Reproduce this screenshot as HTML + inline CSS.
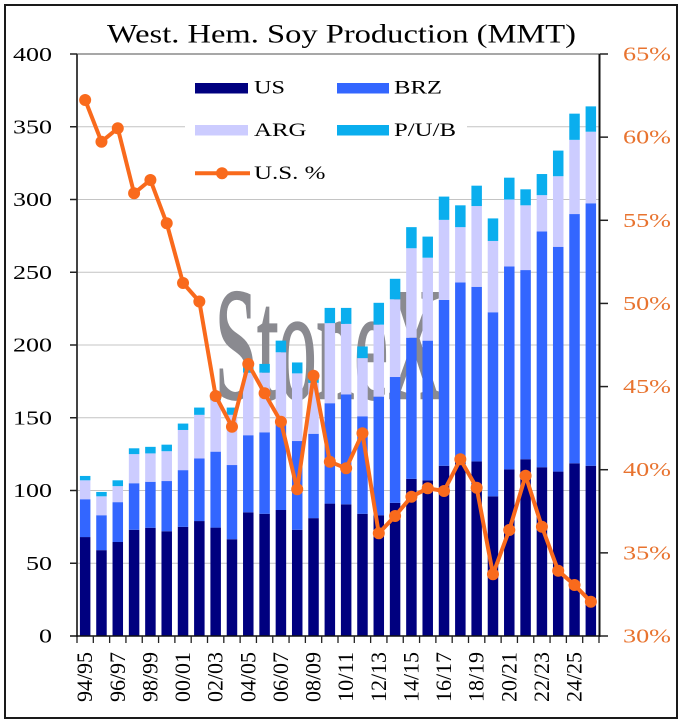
<!DOCTYPE html>
<html><head><meta charset="utf-8"><style>
html,body{margin:0;padding:0;background:#fff;}
svg{display:block;}
text{font-family:"Liberation Serif",serif;}
</style></head><body>
<svg width="684" height="720" viewBox="0 0 684 720" xmlns="http://www.w3.org/2000/svg">
<rect x="0" y="0" width="684" height="720" fill="#fff"/>
<rect x="5" y="5" width="672" height="713" fill="#fff" stroke="#1a1a1a" stroke-width="2"/>

<!-- title -->
<text x="107" y="42.5" font-size="26.5" fill="#000" textLength="469" lengthAdjust="spacingAndGlyphs">West. Hem. Soy Production (MMT)</text>

<!-- gridlines -->
<g stroke="#c4c4c4" stroke-width="1">
<line x1="77" y1="563.25" x2="600" y2="563.25"/>
<line x1="77" y1="490.5" x2="600" y2="490.5"/>
<line x1="77" y1="417.75" x2="600" y2="417.75"/>
<line x1="77" y1="345" x2="600" y2="345"/>
<line x1="77" y1="272.25" x2="600" y2="272.25"/>
<line x1="77" y1="199.5" x2="600" y2="199.5"/>
<line x1="77" y1="126.75" x2="600" y2="126.75"/>
</g>
<line x1="77" y1="54" x2="600" y2="54" stroke="#8a8a8a" stroke-width="1.5"/>

<!-- watermark -->
<text x="215" y="398" font-size="160" fill="#8a8a90" stroke="#8a8a90" stroke-width="2.5" textLength="228" lengthAdjust="spacingAndGlyphs">StoneX</text>

<!-- legend background -->
<rect x="185" y="60" width="282" height="135" fill="#fff"/>

<!-- bars -->
<g transform="translate(0,636) scale(1,-1.455)">
<g fill="#00007f">
<rect x="79.91" y="0" width="10.5" height="68"/>
<rect x="96.22" y="0" width="10.5" height="59"/>
<rect x="112.53" y="0" width="10.5" height="64.6"/>
<rect x="128.84" y="0" width="10.5" height="73"/>
<rect x="145.16" y="0" width="10.5" height="74.4"/>
<rect x="161.47" y="0" width="10.5" height="72"/>
<rect x="177.78" y="0" width="10.5" height="75"/>
<rect x="194.09" y="0" width="10.5" height="79"/>
<rect x="210.41" y="0" width="10.5" height="74.5"/>
<rect x="226.72" y="0" width="10.5" height="66.5"/>
<rect x="243.03" y="0" width="10.5" height="85"/>
<rect x="259.34" y="0" width="10.5" height="84"/>
<rect x="275.66" y="0" width="10.5" height="86.6"/>
<rect x="291.97" y="0" width="10.5" height="73"/>
<rect x="308.28" y="0" width="10.5" height="81"/>
<rect x="324.59" y="0" width="10.5" height="91"/>
<rect x="340.91" y="0" width="10.5" height="90.5"/>
<rect x="357.22" y="0" width="10.5" height="84"/>
<rect x="373.53" y="0" width="10.5" height="83"/>
<rect x="389.84" y="0" width="10.5" height="91.5"/>
<rect x="406.16" y="0" width="10.5" height="108"/>
<rect x="422.47" y="0" width="10.5" height="107"/>
<rect x="438.78" y="0" width="10.5" height="117"/>
<rect x="455.09" y="0" width="10.5" height="120"/>
<rect x="471.41" y="0" width="10.5" height="120"/>
<rect x="487.72" y="0" width="10.5" height="96"/>
<rect x="504.03" y="0" width="10.5" height="114.5"/>
<rect x="520.34" y="0" width="10.5" height="121.5"/>
<rect x="536.66" y="0" width="10.5" height="116"/>
<rect x="552.97" y="0" width="10.5" height="113"/>
<rect x="569.28" y="0" width="10.5" height="118.7"/>
<rect x="585.59" y="0" width="10.5" height="117"/>
</g>
<g fill="#3366ff">
<rect x="79.91" y="68" width="10.5" height="26"/>
<rect x="96.22" y="59" width="10.5" height="24"/>
<rect x="112.53" y="64.6" width="10.5" height="27.4"/>
<rect x="128.84" y="73" width="10.5" height="32"/>
<rect x="145.16" y="74.4" width="10.5" height="31.6"/>
<rect x="161.47" y="72" width="10.5" height="34.5"/>
<rect x="177.78" y="75" width="10.5" height="39"/>
<rect x="194.09" y="79" width="10.5" height="43"/>
<rect x="210.41" y="74.5" width="10.5" height="52.2"/>
<rect x="226.72" y="66.5" width="10.5" height="51"/>
<rect x="243.03" y="85" width="10.5" height="53"/>
<rect x="259.34" y="84" width="10.5" height="56"/>
<rect x="275.66" y="86.6" width="10.5" height="59.4"/>
<rect x="291.97" y="73" width="10.5" height="61"/>
<rect x="308.28" y="81" width="10.5" height="58"/>
<rect x="324.59" y="91" width="10.5" height="69"/>
<rect x="340.91" y="90.5" width="10.5" height="75.5"/>
<rect x="357.22" y="84" width="10.5" height="67"/>
<rect x="373.53" y="83" width="10.5" height="81.5"/>
<rect x="389.84" y="91.5" width="10.5" height="86.5"/>
<rect x="406.16" y="108" width="10.5" height="97"/>
<rect x="422.47" y="107" width="10.5" height="96"/>
<rect x="438.78" y="117" width="10.5" height="114"/>
<rect x="455.09" y="120" width="10.5" height="123"/>
<rect x="471.41" y="120" width="10.5" height="120"/>
<rect x="487.72" y="96" width="10.5" height="126.5"/>
<rect x="504.03" y="114.5" width="10.5" height="139.5"/>
<rect x="520.34" y="121.5" width="10.5" height="130"/>
<rect x="536.66" y="116" width="10.5" height="162"/>
<rect x="552.97" y="113" width="10.5" height="154.5"/>
<rect x="569.28" y="118.7" width="10.5" height="171.3"/>
<rect x="585.59" y="117" width="10.5" height="180.4"/>
</g>
<g fill="#ccccff">
<rect x="79.91" y="94" width="10.5" height="13"/>
<rect x="96.22" y="83" width="10.5" height="13"/>
<rect x="112.53" y="92" width="10.5" height="11"/>
<rect x="128.84" y="105" width="10.5" height="20"/>
<rect x="145.16" y="106" width="10.5" height="19.5"/>
<rect x="161.47" y="106.5" width="10.5" height="20.5"/>
<rect x="177.78" y="114" width="10.5" height="27.6"/>
<rect x="194.09" y="122" width="10.5" height="30"/>
<rect x="210.41" y="126.7" width="10.5" height="35.3"/>
<rect x="226.72" y="117.5" width="10.5" height="34.5"/>
<rect x="243.03" y="138" width="10.5" height="43"/>
<rect x="259.34" y="140" width="10.5" height="41"/>
<rect x="275.66" y="146" width="10.5" height="49"/>
<rect x="291.97" y="134" width="10.5" height="46.5"/>
<rect x="308.28" y="139" width="10.5" height="35"/>
<rect x="324.59" y="160" width="10.5" height="55"/>
<rect x="340.91" y="166" width="10.5" height="48.5"/>
<rect x="357.22" y="151" width="10.5" height="40"/>
<rect x="373.53" y="164.5" width="10.5" height="49.5"/>
<rect x="389.84" y="178" width="10.5" height="53.4"/>
<rect x="406.16" y="205" width="10.5" height="61.5"/>
<rect x="422.47" y="203" width="10.5" height="57"/>
<rect x="438.78" y="231" width="10.5" height="55"/>
<rect x="455.09" y="243" width="10.5" height="38"/>
<rect x="471.41" y="240" width="10.5" height="55.5"/>
<rect x="487.72" y="222.5" width="10.5" height="49"/>
<rect x="504.03" y="254" width="10.5" height="46"/>
<rect x="520.34" y="251.5" width="10.5" height="44.5"/>
<rect x="536.66" y="278" width="10.5" height="25"/>
<rect x="552.97" y="267.5" width="10.5" height="48.5"/>
<rect x="569.28" y="290" width="10.5" height="51"/>
<rect x="585.59" y="297.4" width="10.5" height="49.2"/>
</g>
<g fill="#0aaeee">
<rect x="79.91" y="107" width="10.5" height="3"/>
<rect x="96.22" y="96" width="10.5" height="3"/>
<rect x="112.53" y="103" width="10.5" height="4"/>
<rect x="128.84" y="125" width="10.5" height="4"/>
<rect x="145.16" y="125.5" width="10.5" height="4.5"/>
<rect x="161.47" y="127" width="10.5" height="4.5"/>
<rect x="177.78" y="141.6" width="10.5" height="4.4"/>
<rect x="194.09" y="152" width="10.5" height="5"/>
<rect x="210.41" y="162" width="10.5" height="5"/>
<rect x="226.72" y="152" width="10.5" height="5"/>
<rect x="243.03" y="181" width="10.5" height="6"/>
<rect x="259.34" y="181" width="10.5" height="6"/>
<rect x="275.66" y="195" width="10.5" height="8"/>
<rect x="291.97" y="180.5" width="10.5" height="7.5"/>
<rect x="308.28" y="174" width="10.5" height="5"/>
<rect x="324.59" y="215" width="10.5" height="10.5"/>
<rect x="340.91" y="214.5" width="10.5" height="11"/>
<rect x="357.22" y="191" width="10.5" height="8"/>
<rect x="373.53" y="214" width="10.5" height="15"/>
<rect x="389.84" y="231.4" width="10.5" height="14.1"/>
<rect x="406.16" y="266.5" width="10.5" height="14.5"/>
<rect x="422.47" y="260" width="10.5" height="14.5"/>
<rect x="438.78" y="286" width="10.5" height="16"/>
<rect x="455.09" y="281" width="10.5" height="15"/>
<rect x="471.41" y="295.5" width="10.5" height="14"/>
<rect x="487.72" y="271.5" width="10.5" height="15.5"/>
<rect x="504.03" y="300" width="10.5" height="15"/>
<rect x="520.34" y="296" width="10.5" height="11"/>
<rect x="536.66" y="303" width="10.5" height="14.5"/>
<rect x="552.97" y="316" width="10.5" height="17.6"/>
<rect x="569.28" y="341" width="10.5" height="18"/>
<rect x="585.59" y="346.6" width="10.5" height="17.4"/>
</g>
</g>

<!-- axes -->
<line x1="77" y1="54" x2="77" y2="637" stroke="#444" stroke-width="2"/>
<line x1="599.5" y1="54" x2="599.5" y2="637" stroke="#111" stroke-width="2"/>
<line x1="70" y1="636" x2="600" y2="636" stroke="#111" stroke-width="1.5"/>
<g stroke="#222" stroke-width="1.5">
<line x1="70" y1="54" x2="77" y2="54"/>
<line x1="70" y1="126.75" x2="77" y2="126.75"/>
<line x1="70" y1="199.5" x2="77" y2="199.5"/>
<line x1="70" y1="272.25" x2="77" y2="272.25"/>
<line x1="70" y1="345" x2="77" y2="345"/>
<line x1="70" y1="417.75" x2="77" y2="417.75"/>
<line x1="70" y1="490.5" x2="77" y2="490.5"/>
<line x1="70" y1="563.25" x2="77" y2="563.25"/>
<line x1="600" y1="54" x2="608" y2="54"/>
<line x1="600" y1="137.14" x2="608" y2="137.14"/>
<line x1="600" y1="220.29" x2="608" y2="220.29"/>
<line x1="600" y1="303.43" x2="608" y2="303.43"/>
<line x1="600" y1="386.57" x2="608" y2="386.57"/>
<line x1="600" y1="469.71" x2="608" y2="469.71"/>
<line x1="600" y1="552.86" x2="608" y2="552.86"/>
<line x1="600" y1="636" x2="608" y2="636"/>
</g>
<g stroke="#222" stroke-width="1.3">
<line x1="77" y1="636" x2="77" y2="643"/>
<line x1="93.31" y1="636" x2="93.31" y2="643"/>
<line x1="109.63" y1="636" x2="109.63" y2="643"/>
<line x1="125.94" y1="636" x2="125.94" y2="643"/>
<line x1="142.25" y1="636" x2="142.25" y2="643"/>
<line x1="158.56" y1="636" x2="158.56" y2="643"/>
<line x1="174.88" y1="636" x2="174.88" y2="643"/>
<line x1="191.19" y1="636" x2="191.19" y2="643"/>
<line x1="207.5" y1="636" x2="207.5" y2="643"/>
<line x1="223.81" y1="636" x2="223.81" y2="643"/>
<line x1="240.13" y1="636" x2="240.13" y2="643"/>
<line x1="256.44" y1="636" x2="256.44" y2="643"/>
<line x1="272.75" y1="636" x2="272.75" y2="643"/>
<line x1="289.06" y1="636" x2="289.06" y2="643"/>
<line x1="305.38" y1="636" x2="305.38" y2="643"/>
<line x1="321.69" y1="636" x2="321.69" y2="643"/>
<line x1="338" y1="636" x2="338" y2="643"/>
<line x1="354.31" y1="636" x2="354.31" y2="643"/>
<line x1="370.63" y1="636" x2="370.63" y2="643"/>
<line x1="386.94" y1="636" x2="386.94" y2="643"/>
<line x1="403.25" y1="636" x2="403.25" y2="643"/>
<line x1="419.56" y1="636" x2="419.56" y2="643"/>
<line x1="435.88" y1="636" x2="435.88" y2="643"/>
<line x1="452.19" y1="636" x2="452.19" y2="643"/>
<line x1="468.5" y1="636" x2="468.5" y2="643"/>
<line x1="484.81" y1="636" x2="484.81" y2="643"/>
<line x1="501.13" y1="636" x2="501.13" y2="643"/>
<line x1="517.44" y1="636" x2="517.44" y2="643"/>
<line x1="533.75" y1="636" x2="533.75" y2="643"/>
<line x1="550.06" y1="636" x2="550.06" y2="643"/>
<line x1="566.38" y1="636" x2="566.38" y2="643"/>
<line x1="582.69" y1="636" x2="582.69" y2="643"/>
<line x1="599" y1="636" x2="599" y2="643"/>
</g>

<!-- left labels -->
<g font-size="19.5" fill="#000" text-anchor="end">
<text x="52" y="61" textLength="39" lengthAdjust="spacingAndGlyphs">400</text>
<text x="52" y="133.5" textLength="39" lengthAdjust="spacingAndGlyphs">350</text>
<text x="52" y="206" textLength="39" lengthAdjust="spacingAndGlyphs">300</text>
<text x="52" y="279" textLength="39" lengthAdjust="spacingAndGlyphs">250</text>
<text x="52" y="351.5" textLength="39" lengthAdjust="spacingAndGlyphs">200</text>
<text x="52" y="424.5" textLength="39" lengthAdjust="spacingAndGlyphs">150</text>
<text x="52" y="497" textLength="39" lengthAdjust="spacingAndGlyphs">100</text>
<text x="52" y="570" textLength="26" lengthAdjust="spacingAndGlyphs">50</text>
<text x="52" y="642.5" textLength="13" lengthAdjust="spacingAndGlyphs">0</text>
</g>

<!-- right labels -->
<g font-size="19.5" fill="#e8732f">
<text x="623" y="60.5" textLength="48" lengthAdjust="spacingAndGlyphs">65%</text>
<text x="623" y="143.6" textLength="48" lengthAdjust="spacingAndGlyphs">60%</text>
<text x="623" y="226.8" textLength="48" lengthAdjust="spacingAndGlyphs">55%</text>
<text x="623" y="309.9" textLength="48" lengthAdjust="spacingAndGlyphs">50%</text>
<text x="623" y="393" textLength="48" lengthAdjust="spacingAndGlyphs">45%</text>
<text x="623" y="476.2" textLength="48" lengthAdjust="spacingAndGlyphs">40%</text>
<text x="623" y="559.4" textLength="48" lengthAdjust="spacingAndGlyphs">35%</text>
<text x="623" y="642.5" textLength="48" lengthAdjust="spacingAndGlyphs">30%</text>
</g>

<!-- x labels -->
<g font-size="22" fill="#000" text-anchor="end">
<text transform="translate(92.2,652) rotate(-90)" textLength="50" lengthAdjust="spacingAndGlyphs">94/95</text>
<text transform="translate(124.8,652) rotate(-90)" textLength="50" lengthAdjust="spacingAndGlyphs">96/97</text>
<text transform="translate(157.4,652) rotate(-90)" textLength="50" lengthAdjust="spacingAndGlyphs">98/99</text>
<text transform="translate(190,652) rotate(-90)" textLength="50" lengthAdjust="spacingAndGlyphs">00/01</text>
<text transform="translate(222.7,652) rotate(-90)" textLength="50" lengthAdjust="spacingAndGlyphs">02/03</text>
<text transform="translate(255.3,652) rotate(-90)" textLength="50" lengthAdjust="spacingAndGlyphs">04/05</text>
<text transform="translate(287.9,652) rotate(-90)" textLength="50" lengthAdjust="spacingAndGlyphs">06/07</text>
<text transform="translate(320.5,652) rotate(-90)" textLength="50" lengthAdjust="spacingAndGlyphs">08/09</text>
<text transform="translate(353.2,652) rotate(-90)" textLength="50" lengthAdjust="spacingAndGlyphs">10/11</text>
<text transform="translate(385.8,652) rotate(-90)" textLength="50" lengthAdjust="spacingAndGlyphs">12/13</text>
<text transform="translate(418.4,652) rotate(-90)" textLength="50" lengthAdjust="spacingAndGlyphs">14/15</text>
<text transform="translate(451,652) rotate(-90)" textLength="50" lengthAdjust="spacingAndGlyphs">16/17</text>
<text transform="translate(483.7,652) rotate(-90)" textLength="50" lengthAdjust="spacingAndGlyphs">18/19</text>
<text transform="translate(516.3,652) rotate(-90)" textLength="50" lengthAdjust="spacingAndGlyphs">20/21</text>
<text transform="translate(548.9,652) rotate(-90)" textLength="50" lengthAdjust="spacingAndGlyphs">22/23</text>
<text transform="translate(581.5,652) rotate(-90)" textLength="50" lengthAdjust="spacingAndGlyphs">24/25</text>
</g>

<!-- US % line -->
<polyline fill="none" stroke="#f96a1c" stroke-width="4" stroke-linejoin="round" points="85.16,100 101.47,141.7 117.78,128.3 134.09,193.3 150.41,180 166.72,223.3 183.03,283 199.34,301.5 215.66,396 231.97,426.7 248.28,364 264.59,393.3 280.91,421.7 297.22,489.3 313.53,375.7 329.84,461.7 346.16,468.3 362.47,433.3 378.78,533.3 395.09,516 411.41,496.7 427.72,488.3 444.03,491 460.34,459.3 476.66,487.7 492.97,574.3 509.28,530 525.59,475.7 541.91,526.7 558.22,570.7 574.53,585 590.84,601.7"/>
<g fill="#f96a1c">
<circle cx="85.16" cy="100" r="6"/>
<circle cx="101.47" cy="141.7" r="6"/>
<circle cx="117.78" cy="128.3" r="6"/>
<circle cx="134.09" cy="193.3" r="6"/>
<circle cx="150.41" cy="180" r="6"/>
<circle cx="166.72" cy="223.3" r="6"/>
<circle cx="183.03" cy="283" r="6"/>
<circle cx="199.34" cy="301.5" r="6"/>
<circle cx="215.66" cy="396" r="6"/>
<circle cx="231.97" cy="426.7" r="6"/>
<circle cx="248.28" cy="364" r="6"/>
<circle cx="264.59" cy="393.3" r="6"/>
<circle cx="280.91" cy="421.7" r="6"/>
<circle cx="297.22" cy="489.3" r="6"/>
<circle cx="313.53" cy="375.7" r="6"/>
<circle cx="329.84" cy="461.7" r="6"/>
<circle cx="346.16" cy="468.3" r="6"/>
<circle cx="362.47" cy="433.3" r="6"/>
<circle cx="378.78" cy="533.3" r="6"/>
<circle cx="395.09" cy="516" r="6"/>
<circle cx="411.41" cy="496.7" r="6"/>
<circle cx="427.72" cy="488.3" r="6"/>
<circle cx="444.03" cy="491" r="6"/>
<circle cx="460.34" cy="459.3" r="6"/>
<circle cx="476.66" cy="487.7" r="6"/>
<circle cx="492.97" cy="574.3" r="6"/>
<circle cx="509.28" cy="530" r="6"/>
<circle cx="525.59" cy="475.7" r="6"/>
<circle cx="541.91" cy="526.7" r="6"/>
<circle cx="558.22" cy="570.7" r="6"/>
<circle cx="574.53" cy="585" r="6"/>
<circle cx="590.84" cy="601.7" r="6"/>
</g>

<!-- legend -->
<rect x="195" y="83" width="53" height="10.5" fill="#00007f"/>
<rect x="337" y="83" width="52" height="10.5" fill="#3366ff"/>
<rect x="195" y="125" width="53" height="10.5" fill="#ccccff"/>
<rect x="337" y="125" width="52" height="10.5" fill="#0aaeee"/>
<line x1="195" y1="173.3" x2="250" y2="173.3" stroke="#f96a1c" stroke-width="4"/>
<circle cx="222" cy="173.3" r="6" fill="#f96a1c"/>
<g font-size="19" fill="#000">
<text x="254" y="93.3" textLength="31" lengthAdjust="spacingAndGlyphs">US</text>
<text x="394" y="93.3" textLength="48" lengthAdjust="spacingAndGlyphs">BRZ</text>
<text x="254" y="136" textLength="52.5" lengthAdjust="spacingAndGlyphs">ARG</text>
<text x="394" y="136" textLength="62" lengthAdjust="spacingAndGlyphs">P/U/B</text>
<text x="254" y="179" textLength="71.5" lengthAdjust="spacingAndGlyphs">U.S. %</text>
</g>
</svg>
</body></html>
